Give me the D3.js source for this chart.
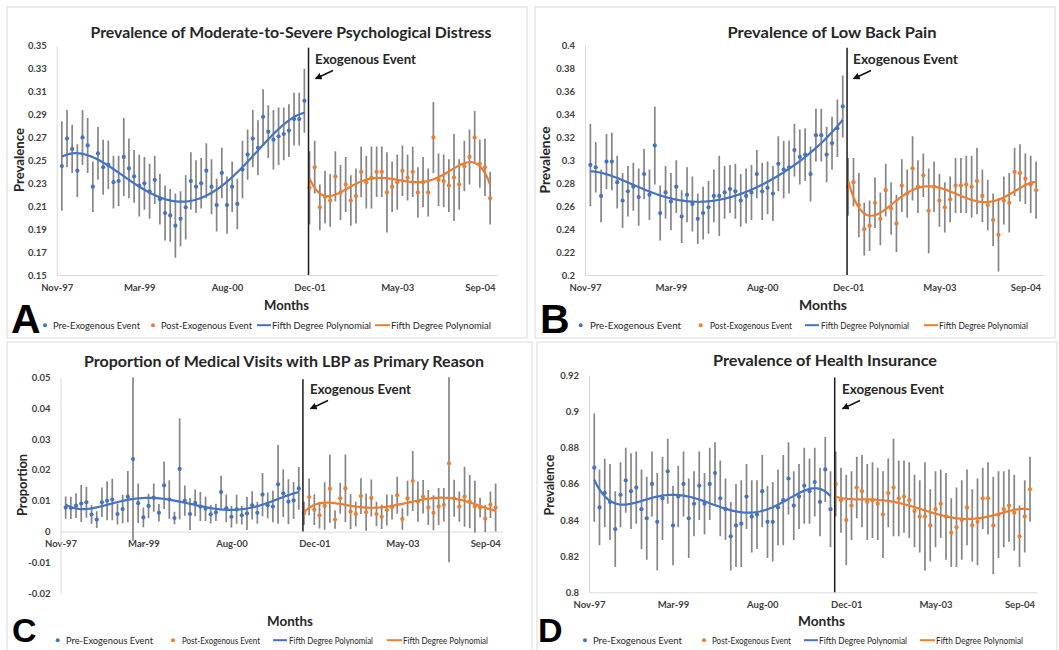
<!DOCTYPE html>
<html>
<head>
<meta charset="utf-8">
<script src="https://cdn.jsdelivr.net/npm/d3@7"></script>
<style>
  body { margin: 0; background: #fff; }
  text { font-family: Lato, "Open Sans", sans-serif; }
</style>
</head>
<body>
<svg id="chart" width="1059" height="650"></svg>
<script>
// x axis: month index, 0 = Nov-97
const tickMonths = [0, 16, 33, 49, 66, 82];
const tickLabels = ["Nov-97", "Mar-99", "Aug-00", "Dec-01", "May-03", "Sep-04"];
const legendLabels = ["Pre-Exogenous Event", "Post-Exogenous Event", "Fifth Degree Polynomial", "Fifth Degree Polynomial"];
const titles = [
  "Prevalence of Moderate-to-Severe Psychological Distress",
  "Prevalence of Low Back Pain",
  "Proportion of Medical Visits with LBP as Primary Reason",
  "Prevalence of Health Insurance"
];

// A - psychological distress
const distressTicks = [0.15, 0.17, 0.19, 0.21, 0.23, 0.25, 0.27, 0.29, 0.31, 0.33, 0.35];
const distressPre = [0.245,0.269,0.260,0.241,0.270,0.263,0.227,0.256,0.244,0.246,0.231,0.232,0.253,0.243,0.236,0.228,0.230,0.223,0.233,0.216,0.204,0.202,0.193,0.199,0.209,0.232,0.227,0.230,0.241,0.227,0.211,0.239,0.211,0.227,0.212,0.242,0.255,0.269,0.261,0.288,0.275,0.268,0.271,0.273,0.276,0.286,0.286,0.302];
const distressPreErr = [0.039,0.025,0.021,0.023,0.024,0.024,0.022,0.023,0.024,0.021,0.023,0.022,0.034,0.026,0.023,0.027,0.023,0.024,0.021,0.022,0.024,0.023,0.028,0.024,0.028,0.025,0.023,0.022,0.024,0.024,0.023,0.022,0.025,0.022,0.022,0.025,0.022,0.025,0.024,0.024,0.023,0.026,0.025,0.023,0.023,0.023,0.023,0.028];
const distressPost = [0.226,0.244,0.209,0.218,0.215,0.236,0.222,0.229,0.215,0.219,0.240,0.231,0.235,0.240,0.240,0.222,0.227,0.231,0.241,0.235,0.240,0.222,0.231,0.222,0.270,0.233,0.232,0.228,0.235,0.229,0.245,0.253,0.270,0.247,0.244,0.217];
const distressPostErr = [0.032,0.023,0.020,0.023,0.023,0.022,0.024,0.024,0.022,0.024,0.022,0.023,0.027,0.022,0.022,0.035,0.022,0.024,0.022,0.020,0.022,0.022,0.022,0.021,0.031,0.023,0.023,0.023,0.038,0.022,0.022,0.024,0.023,0.021,0.025,0.023];

// B - low back pain
const backTicks = [0.2, 0.22, 0.24, 0.26, 0.28, 0.3, 0.32, 0.34, 0.36, 0.38, 0.4];
const backPre = [0.296,0.294,0.269,0.299,0.299,0.281,0.265,0.273,0.277,0.268,0.288,0.270,0.313,0.254,0.272,0.264,0.277,0.251,0.270,0.262,0.249,0.254,0.259,0.269,0.269,0.272,0.275,0.273,0.265,0.269,0.272,0.288,0.273,0.276,0.271,0.297,0.292,0.294,0.309,0.303,0.305,0.288,0.322,0.322,0.305,0.315,0.328,0.347];
const backPreErr = [0.036,0.022,0.023,0.024,0.025,0.023,0.024,0.022,0.021,0.025,0.022,0.022,0.034,0.024,0.023,0.025,0.023,0.023,0.024,0.024,0.022,0.023,0.023,0.023,0.035,0.023,0.021,0.024,0.023,0.024,0.024,0.021,0.025,0.023,0.024,0.024,0.025,0.023,0.023,0.024,0.023,0.024,0.023,0.023,0.024,0.023,0.025,0.027];
const backPost = [0.277,0.281,0.261,0.240,0.243,0.263,0.249,0.274,0.258,0.245,0.278,0.271,0.293,0.277,0.287,0.256,0.277,0.265,0.259,0.266,0.278,0.278,0.279,0.277,0.282,0.269,0.261,0.248,0.235,0.265,0.263,0.290,0.289,0.284,0.279,0.274];
const backPostErr = [0.025,0.021,0.028,0.023,0.022,0.022,0.023,0.023,0.023,0.025,0.023,0.021,0.028,0.023,0.019,0.037,0.022,0.023,0.022,0.020,0.024,0.024,0.025,0.027,0.029,0.023,0.022,0.023,0.032,0.021,0.026,0.021,0.025,0.022,0.025,0.025];

// C - medical visits with LBP
const visitTicks = [-0.02, -0.01, 0, 0.01, 0.02, 0.03, 0.04, 0.05];
const visitPre = [0.0078,0.0077,0.0084,0.0091,0.0095,0.0055,0.0039,0.0095,0.0100,0.0104,0.0057,0.0073,0.0113,0.0235,0.0092,0.0046,0.0083,0.0110,0.0061,0.0150,0.0104,0.0044,0.0203,0.0100,0.0057,0.0093,0.0081,0.0074,0.0056,0.0062,0.0128,0.0075,0.0048,0.0072,0.0053,0.0059,0.0085,0.0061,0.0120,0.0085,0.0081,0.0153,0.0124,0.0097,0.0101,0.0140];
const visitPreErr = [0.0036,0.0036,0.004,0.006,0.005,0.003,0.0027,0.0048,0.0063,0.0067,0.0034,0.0046,0.0083,0.0265,0.0064,0.0032,0.004,0.0046,0.0028,0.0077,0.0062,0.002,0.0164,0.0049,0.0052,0.0043,0.0047,0.004,0.003,0.0028,0.0053,0.0045,0.0035,0.0047,0.003,0.0054,0.0046,0.0036,0.007,0.0042,0.0051,0.0128,0.0077,0.0073,0.006,0.0069];
const visitPost = [0.0059,0.0112,0.0071,0.0053,0.0083,0.0139,0.0039,0.0108,0.0140,0.0065,0.0057,0.0115,0.0063,0.0109,0.0057,0.0048,0.0070,0.0079,0.0118,0.0041,0.0108,0.0164,0.0097,0.0113,0.0078,0.0061,0.0081,0.0087,0.0221,0.0108,0.0081,0.0113,0.0097,0.0081,0.0078,0.0042,0.0087,0.0078];
const visitPostErr = [0.0038,0.006,0.005,0.0043,0.0077,0.011,0.003,0.005,0.011,0.0057,0.004,0.0058,0.006,0.006,0.004,0.004,0.005,0.004,0.006,0.0035,0.0057,0.0097,0.0065,0.0054,0.0057,0.0057,0.006,0.0054,0.032,0.006,0.0049,0.0097,0.0086,0.0084,0.0032,0.0043,0.0043,0.0078];

// D - health insurance
const insuranceTicks = [0.8, 0.82, 0.84, 0.86, 0.88, 0.9, 0.92];
const insurancePre = [0.869,0.847,0.855,0.850,0.835,0.854,0.862,0.856,0.858,0.846,0.841,0.860,0.839,0.852,0.867,0.837,0.853,0.860,0.841,0.849,0.859,0.849,0.860,0.866,0.852,0.846,0.831,0.837,0.838,0.853,0.842,0.843,0.856,0.839,0.839,0.847,0.851,0.863,0.848,0.853,0.859,0.856,0.861,0.850,0.868,0.846];
const insurancePreErr = [0.030,0.021,0.019,0.021,0.021,0.018,0.018,0.021,0.020,0.022,0.023,0.018,0.027,0.023,0.018,0.022,0.017,0.018,0.022,0.018,0.019,0.017,0.020,0.017,0.021,0.017,0.019,0.023,0.024,0.018,0.020,0.019,0.020,0.020,0.022,0.021,0.025,0.020,0.019,0.018,0.021,0.018,0.019,0.019,0.018,0.021];
const insurancePost = [0.860,0.851,0.840,0.848,0.858,0.856,0.850,0.851,0.849,0.843,0.855,0.858,0.852,0.853,0.851,0.845,0.842,0.842,0.837,0.846,0.849,0.842,0.833,0.836,0.840,0.847,0.837,0.839,0.852,0.852,0.837,0.843,0.846,0.848,0.844,0.831,0.842,0.857];
const insurancePostErr = [0.018,0.018,0.025,0.019,0.017,0.020,0.021,0.021,0.020,0.024,0.019,0.027,0.021,0.020,0.021,0.020,0.020,0.030,0.020,0.021,0.019,0.024,0.019,0.022,0.022,0.021,0.020,0.024,0.017,0.020,0.027,0.024,0.021,0.020,0.021,0.017,0.020,0.018];

const blue = "#4472C4";
const orange = "#ED7D31";

// layout of each panel (pixels)
const panels = [
  { letter: "A", title: titles[0], yLabel: "Prevalence", ticks: distressTicks,
    pre: distressPre, preErr: distressPreErr, post: distressPost, postErr: distressPostErr,
    box: [7, 7, 520, 331], x0: 56.7, perMonth: 5.16, yTop: 45.7, yBottom: 275, axisAt: 0.15,
    titleX: 291, titleY: 38, titleW: 401, exoX: 315, exoY: 63.5, exoW: 101,
    yLabX: 23.5, yLabY: 160, yLabW: 64, monthsX: 286.5, monthsY: 309.5, monthsW: 45,
    letterX: 11, letterSize: 41, letterY: 333, legY: 328.5,
    leg: [45, 53, 87, 153, 161, 91, 257, 271, 272, 99, 375, 390, 391, 100] },
  { letter: "B", title: titles[1], yLabel: "Prevalence", ticks: backTicks,
    pre: backPre, preErr: backPreErr, post: backPost, postErr: backPostErr,
    box: [535, 7, 520, 331], x0: 585, perMonth: 5.37, yTop: 45.7, yBottom: 275, axisAt: 0.2,
    titleX: 832, titleY: 38, titleW: 209, exoX: 853, exoY: 63.5, exoW: 105,
    yLabX: 549.5, yLabY: 160, yLabW: 67, monthsX: 823, monthsY: 309.5, monthsW: 48,
    letterX: 540, letterSize: 41, letterY: 333, legY: 328.5,
    leg: [580.7, 590, 91, 700.7, 710, 82, 805, 819, 821, 88, 924, 938, 939, 89] },
  { letter: "C", title: titles[2], yLabel: "Proportion", ticks: visitTicks,
    pre: visitPre, preErr: visitPreErr, post: visitPost, postErr: visitPostErr,
    box: [7, 342, 525, 320], x0: 60.5, perMonth: 5.18, yTop: 377.3, yBottom: 593.3, axisAt: 0,
    titleX: 284, titleY: 367, titleW: 400, exoX: 310, exoY: 393.5, exoW: 101,
    yLabX: 27, yLabY: 485, yLabW: 62, monthsX: 290, monthsY: 626, monthsW: 46,
    letterX: 12, letterSize: 34, letterY: 642, legY: 643.5,
    leg: [57.7, 66, 87, 173, 182, 78, 273, 287, 289, 84, 387, 402, 403, 85] },
  { letter: "D", title: titles[3], yLabel: "Prevalence", ticks: insuranceTicks,
    pre: insurancePre, preErr: insurancePreErr, post: insurancePost, postErr: insurancePostErr,
    box: [537, 342, 520, 320], x0: 589, perMonth: 5.25, yTop: 375.5, yBottom: 592.3, axisAt: 0.8,
    titleX: 825, titleY: 366, titleW: 224, exoX: 842, exoY: 393.5, exoW: 102,
    yLabX: 553.5, yLabY: 485, yLabW: 61, monthsX: 821.5, monthsY: 626, monthsW: 47,
    letterX: 538, letterSize: 34, letterY: 642, legY: 643.5,
    leg: [585, 593, 89, 704, 712, 79, 804, 818, 819, 88, 920, 935, 936, 87] }
];

const svg = d3.select("#chart");

svg.append("defs").append("marker")
  .attr("id", "arrow")
  .attr("viewBox", "0 0 10 10")
  .attr("refX", 8).attr("refY", 5)
  .attr("markerWidth", 5).attr("markerHeight", 5)
  .attr("orient", "auto")
  .append("path")
  .attr("d", "M0,0 L10,5 L0,10 z")
  .attr("fill", "#111");

// least squares polynomial trendline (what Excel's "Fifth Degree Polynomial" is)
function polyFit(xs, ys, deg) {
  const mx = d3.mean(xs);
  const sx = (d3.max(xs) - d3.min(xs)) / 2;
  const n = deg + 1;
  const A = Array.from({ length: n }, () => new Array(n + 1).fill(0));
  xs.forEach((x, k) => {
    const t = (x - mx) / sx;
    const p = [];
    for (let i = 0; i < n; i++) p.push(Math.pow(t, i));
    for (let i = 0; i < n; i++) {
      for (let j = 0; j < n; j++) A[i][j] += p[i] * p[j];
      A[i][n] += p[i] * ys[k];
    }
  });
  for (let i = 0; i < n; i++) {
    let piv = i;
    for (let r = i + 1; r < n; r++) if (Math.abs(A[r][i]) > Math.abs(A[piv][i])) piv = r;
    [A[i], A[piv]] = [A[piv], A[i]];
    for (let r = 0; r < n; r++) {
      if (r === i) continue;
      const f = A[r][i] / A[i][i];
      for (let c = i; c <= n; c++) A[r][c] -= f * A[i][c];
    }
  }
  const coef = A.map((row, i) => row[n] / row[i]);
  return x => {
    const t = (x - mx) / sx;
    return coef.reduce((s, c, i) => s + c * Math.pow(t, i), 0);
  };
}

function fitWidth(sel, w) {
  sel.attr("textLength", w).attr("lengthAdjust", "spacingAndGlyphs");
}

const fmt = d => String(+d.toFixed(2));

panels.forEach((p, pi) => {
  const g = svg.append("g");

  g.append("rect")
    .attr("x", p.box[0]).attr("y", p.box[1])
    .attr("width", p.box[2]).attr("height", p.box[3])
    .attr("fill", "#fff")
    .attr("stroke", "#d9d9d9");

  const x = d3.scaleLinear().domain([0, 85.4]).range([p.x0, p.x0 + 85.4 * p.perMonth]);
  const y = d3.scaleLinear().domain(d3.extent(p.ticks)).range([p.yBottom, p.yTop]);

  // axes
  const xAxis = g.append("g")
    .attr("transform", "translate(0," + y(p.axisAt) + ")")
    .call(d3.axisBottom(x).tickValues(tickMonths).tickFormat((d, i) => tickLabels[i]).tickSize(0).tickPadding(9));
  const yAxis = g.append("g")
    .attr("transform", "translate(" + p.x0 + ",0)")
    .call(d3.axisLeft(y).tickValues(p.ticks).tickFormat(fmt).tickSize(0).tickPadding(10));
  [xAxis, yAxis].forEach(a => {
    a.select(".domain").attr("stroke", "#d9d9d9");
    a.selectAll("text")
      .style("font-family", "Lato, sans-serif")
      .attr("font-size", 9.5)
      .attr("font-weight", "bold")
      .attr("fill", "#404040");
  });

  const clipId = "clip" + pi;
  g.append("clipPath").attr("id", clipId)
    .append("rect")
    .attr("x", p.x0).attr("y", p.yTop)
    .attr("width", 85.4 * p.perMonth).attr("height", p.yBottom - p.yTop);
  const plot = g.append("g").attr("clip-path", "url(#" + clipId + ")");

  const preX = p.pre.map((v, i) => i + 1);
  const postX = p.post.map((v, i) => p.pre.length + 1 + i);
  const series = [
    { xs: preX, ys: p.pre, err: p.preErr, color: blue },
    { xs: postX, ys: p.post, err: p.postErr, color: orange }
  ];

  // error bars
  series.forEach(s => {
    plot.selectAll(null)
      .data(s.ys)
      .enter()
      .append("line")
      .attr("x1", (d, i) => x(s.xs[i]))
      .attr("x2", (d, i) => x(s.xs[i]))
      .attr("y1", (d, i) => y(d + s.err[i]))
      .attr("y2", (d, i) => y(d - s.err[i]))
      .attr("stroke", "#858585")
      .attr("stroke-width", 1.7);
  });

  // exogenous event line
  const eventX = x(p.pre.length + 0.8);
  g.append("line")
    .attr("x1", eventX).attr("x2", eventX)
    .attr("y1", p.yTop + 2).attr("y2", y(p.axisAt))
    .attr("stroke", "#1a1a1a")
    .attr("stroke-width", 1.5);

  // points and trendlines
  series.forEach(s => {
    plot.selectAll(null)
      .data(s.ys)
      .enter()
      .append("circle")
      .attr("cx", (d, i) => x(s.xs[i]))
      .attr("cy", d => y(d))
      .attr("r", 2.1)
      .attr("fill", s.color);

    const f = polyFit(s.xs, s.ys, 5);
    const pts = d3.range(s.xs[0], s.xs[s.xs.length - 1] + 0.001, 0.25).map(t => [t, f(t)]);
    plot.append("path")
      .datum(pts)
      .attr("fill", "none")
      .attr("stroke", s.color)
      .attr("stroke-width", 2.2)
      .attr("d", d3.line().x(d => x(d[0])).y(d => y(d[1])));
  });

  // texts
  g.append("text")
    .attr("x", p.titleX).attr("y", p.titleY)
    .attr("text-anchor", "middle")
    .attr("font-size", 15.5).attr("font-weight", "bold")
    .attr("fill", "#262626")
    .text(p.title)
    .call(fitWidth, p.titleW);

  g.append("text")
    .attr("x", p.exoX).attr("y", p.exoY)
    .attr("font-size", 12.5).attr("font-weight", "bold")
    .attr("fill", "#262626")
    .text("Exogenous Event")
    .call(fitWidth, p.exoW);

  g.append("line")
    .attr("x1", p.exoX + 18).attr("y1", p.exoY + 7)
    .attr("x2", p.exoX + 1).attr("y2", p.exoY + 15)
    .attr("stroke", "#111")
    .attr("stroke-width", 1.4)
    .attr("marker-end", "url(#arrow)");

  g.append("text")
    .attr("x", p.monthsX).attr("y", p.monthsY)
    .attr("text-anchor", "middle")
    .attr("font-size", 13).attr("font-weight", "bold")
    .attr("fill", "#262626")
    .text("Months")
    .call(fitWidth, p.monthsW);

  g.append("text")
    .attr("transform", "translate(" + p.yLabX + "," + p.yLabY + ") rotate(-90)")
    .attr("text-anchor", "middle")
    .attr("font-size", 13).attr("font-weight", "bold")
    .attr("fill", "#262626")
    .text(p.yLabel)
    .call(fitWidth, p.yLabW);

  g.append("text")
    .attr("x", p.letterX).attr("y", p.letterY)
    .style("font-family", "'Liberation Sans', Arial, sans-serif")
    .attr("font-size", p.letterSize).attr("font-weight", "bold")
    .attr("fill", "#000")
    .text(p.letter);

  // legend
  const L = p.leg;
  const legend = g.append("g");
  [[L[0], blue], [L[3], orange]].forEach(m => {
    legend.append("circle")
      .attr("cx", m[0]).attr("cy", p.legY - 3.3)
      .attr("r", 2).attr("fill", m[1]);
  });
  [[L[6], L[7], blue], [L[10], L[11], orange]].forEach(m => {
    legend.append("line")
      .attr("x1", m[0]).attr("x2", m[1])
      .attr("y1", p.legY - 3.3).attr("y2", p.legY - 3.3)
      .attr("stroke", m[2]).attr("stroke-width", 2);
  });
  [[L[1], L[2]], [L[4], L[5]], [L[8], L[9]], [L[12], L[13]]].forEach((m, i) => {
    legend.append("text")
      .attr("x", m[0]).attr("y", p.legY)
      .attr("font-size", 9.5)
      .attr("fill", "#262626")
      .text(legendLabels[i])
      .call(fitWidth, m[1]);
  });
});
</script>
</body>
</html>
